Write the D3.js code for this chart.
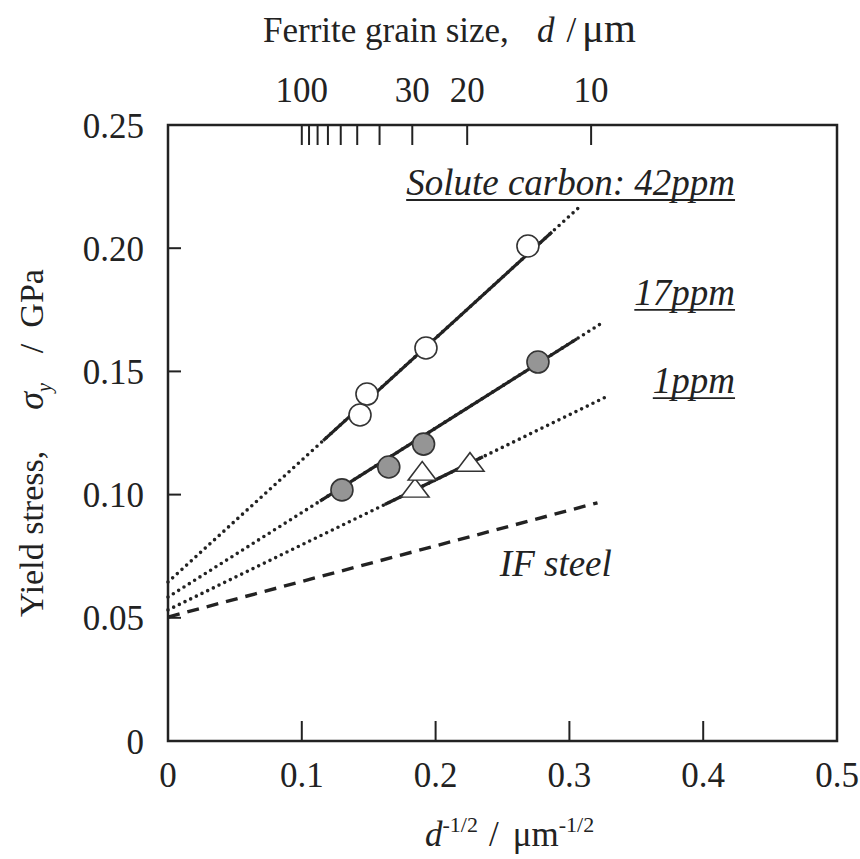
<!DOCTYPE html>
<html>
<head>
<meta charset="utf-8">
<script src="https://cdn.jsdelivr.net/npm/d3@7"></script>
<style>
  body { margin: 0; background: #fff; }
  svg text { font-family: "Liberation Serif", "Times New Roman", serif; fill: #222; }
</style>
</head>
<body>
<div id="chart"></div>
<script>
// measured points (x = d^-1/2, y = yield stress GPa)
const c42 = [[0.1435, 0.1323], [0.1487, 0.1408], [0.1928, 0.1595], [0.2690, 0.2009]];
const c17 = [[0.130, 0.1019], [0.165, 0.1112], [0.191, 0.1205], [0.2765, 0.1538]];
const c1 = [[0.1846, 0.1015], [0.190, 0.1084], [0.2257, 0.1120]];

// Hall-Petch fits: 42ppm, 17ppm, 1ppm
const fitIntercept = [0.0645, 0.0584, 0.0532];
const fitSlope = [0.495, 0.343, 0.264];
const solidFrom = [0.116, 0.1136, 0.162];
const solidTo = [0.287, 0.3057, 0.2354];
const dottedTo = [0.309, 0.324, 0.330];
const seriesLabels = ["Solute carbon: 42ppm", "17ppm", "1ppm"];
const labelY = [0.2216, 0.1770, 0.1412];

// IF steel dashed line
const ifIntercept = 0.0503, ifSlope = 0.1445, ifTo = 0.321;

const xTicks = [0, 0.1, 0.2, 0.3, 0.4, 0.5];
const yTicks = [0, 0.05, 0.10, 0.15, 0.20, 0.25];
const grainTicks = [100, 90, 80, 70, 60, 50, 40, 30, 20, 10];
const grainLabels = [100, 30, 20, 10];

const W = 860, H = 859;
const x = d3.scaleLinear().domain([0, 0.5]).range([168, 837]);
const y = d3.scaleLinear().domain([0, 0.25]).range([741, 125]);

const svg = d3.select("#chart").append("svg")
    .attr("width", W).attr("height", H);

const line = d3.line().x(d => x(d[0])).y(d => y(d[1]));

// frame
svg.append("rect")
    .attr("x", x(0)).attr("y", y(0.25))
    .attr("width", x(0.5) - x(0)).attr("height", y(0) - y(0.25))
    .attr("fill", "none").attr("stroke", "#222").attr("stroke-width", 2.5);

// bottom ticks (inside)
svg.selectAll(".xt").data(xTicks.filter(v => v > 0 && v < 0.5)).enter()
  .append("line")
    .attr("x1", d => x(d)).attr("x2", d => x(d))
    .attr("y1", y(0)).attr("y2", y(0) - 20)
    .attr("stroke", "#222").attr("stroke-width", 2);

svg.selectAll(".xl").data(xTicks).enter()
  .append("text")
    .attr("x", d => x(d)).attr("y", 787)
    .attr("text-anchor", "middle")
    .attr("font-size", 35)
    .text(d => d === 0 ? "0" : d3.format(".1f")(d));

// left ticks
svg.selectAll(".yt").data(yTicks.filter(v => v > 0 && v < 0.25)).enter()
  .append("line")
    .attr("x1", x(0)).attr("x2", x(0) + 13)
    .attr("y1", d => y(d)).attr("y2", d => y(d))
    .attr("stroke", "#222").attr("stroke-width", 2);

svg.selectAll(".yl").data(yTicks).enter()
  .append("text")
    .attr("x", 144).attr("y", d => y(d))
    .attr("dy", "0.36em")
    .attr("text-anchor", "end")
    .attr("font-size", 35)
    .text(d => d === 0 ? "0" : d3.format(".2f")(d));

// top grain size axis
svg.selectAll(".gt").data(grainTicks).enter()
  .append("line")
    .attr("x1", d => x(Math.pow(d, -0.5))).attr("x2", d => x(Math.pow(d, -0.5)))
    .attr("y1", y(0.25)).attr("y2", y(0.25) + 20)
    .attr("stroke", "#222").attr("stroke-width", 2);

svg.selectAll(".gl").data(grainLabels).enter()
  .append("text")
    .attr("x", d => x(Math.pow(d, -0.5))).attr("y", 102)
    .attr("text-anchor", "middle")
    .attr("font-size", 35)
    .text(d => d);

// axis titles
const topTitle = svg.append("text").attr("x", 263).attr("y", 42)
    .attr("font-size", 35);
topTitle.append("tspan").text("Ferrite grain size,");
topTitle.append("tspan").attr("dx", 28).attr("font-style", "italic").text("d");
topTitle.append("tspan").attr("dx", 12).text("/");
topTitle.append("tspan").attr("dx", 6).attr("font-size", 41).text("μm");

const botTitle = svg.append("text").attr("x", 425).attr("y", 846)
    .attr("font-size", 35);
botTitle.append("tspan").attr("font-style", "italic").text("d");
botTitle.append("tspan").attr("font-size", 22).attr("dy", -14).text("-1/2");
botTitle.append("tspan").attr("dy", 14).attr("dx", 11).text("/");
botTitle.append("tspan").attr("dx", 14).text("μm");
botTitle.append("tspan").attr("font-size", 22).attr("dy", -14).text("-1/2");

const yTitle = svg.append("text")
    .attr("transform", "translate(43,617) rotate(-90)")
    .attr("font-size", 34);
yTitle.append("tspan").text("Yield stress,");
yTitle.append("tspan").attr("dx", 41).attr("font-style", "italic").attr("font-size", 36).text("σ");
yTitle.append("tspan").attr("font-style", "italic").attr("font-size", 20).attr("dy", 8).text("y");
yTitle.append("tspan").attr("dy", -8).attr("dx", 30).text("/");
yTitle.append("tspan").attr("dx", 16).text("GPa");

// IF steel dashed
svg.append("path")
    .attr("d", line([[0, ifIntercept], [ifTo, ifIntercept + ifSlope * ifTo]]))
    .attr("fill", "none").attr("stroke", "#222").attr("stroke-width", 3.4)
    .attr("stroke-dasharray", "12,8");

// fit lines: dotted extrapolation + solid range
fitIntercept.forEach((a, i) => {
  const b = fitSlope[i];
  svg.append("path")
      .attr("d", line([[0, a], [dottedTo[i], a + b * dottedTo[i]]]))
      .attr("fill", "none").attr("stroke", "#222").attr("stroke-width", 3.6)
      .attr("stroke-linecap", "round").attr("stroke-dasharray", "0,6.3");
  svg.append("path")
      .attr("d", line([[solidFrom[i], a + b * solidFrom[i]], [solidTo[i], a + b * solidTo[i]]]))
      .attr("fill", "none").attr("stroke", "#222").attr("stroke-width", 3.2);
});

// markers
svg.selectAll(".c42").data(c42).enter().append("circle")
    .attr("cx", d => x(d[0])).attr("cy", d => y(d[1])).attr("r", 11)
    .attr("fill", "#fff").attr("stroke", "#333").attr("stroke-width", 1.6);

svg.selectAll(".c17").data(c17).enter().append("circle")
    .attr("cx", d => x(d[0])).attr("cy", d => y(d[1])).attr("r", 11)
    .attr("fill", "#959595").attr("stroke", "#333").attr("stroke-width", 1.6);

const tri = d3.symbol().type(d3.symbolTriangle).size(220);
svg.selectAll(".c1").data(c1).enter().append("path")
    .attr("d", tri)
    .attr("transform", d => `translate(${x(d[0])},${y(d[1])}) scale(1.25,0.95)`)
    .attr("fill", "#fff").attr("stroke", "#333").attr("stroke-width", 1.4);

// series labels, italic + underlined
seriesLabels.forEach((t, i) => {
  const tx = svg.append("text")
      .attr("x", x(0.4238)).attr("y", y(labelY[i]))
      .attr("text-anchor", "end").attr("font-size", 37)
      .attr("font-style", "italic").text(t);
  const len = tx.node().getComputedTextLength();
  svg.append("line")
      .attr("x1", x(0.4238) - len).attr("x2", x(0.4238))
      .attr("y1", y(labelY[i]) + 5).attr("y2", y(labelY[i]) + 5)
      .attr("stroke", "#222").attr("stroke-width", 1.8);
});

svg.append("text")
    .attr("x", x(0.248)).attr("y", y(0.067))
    .attr("font-size", 37).attr("font-style", "italic")
    .text("IF steel");
</script>
</body>
</html>
